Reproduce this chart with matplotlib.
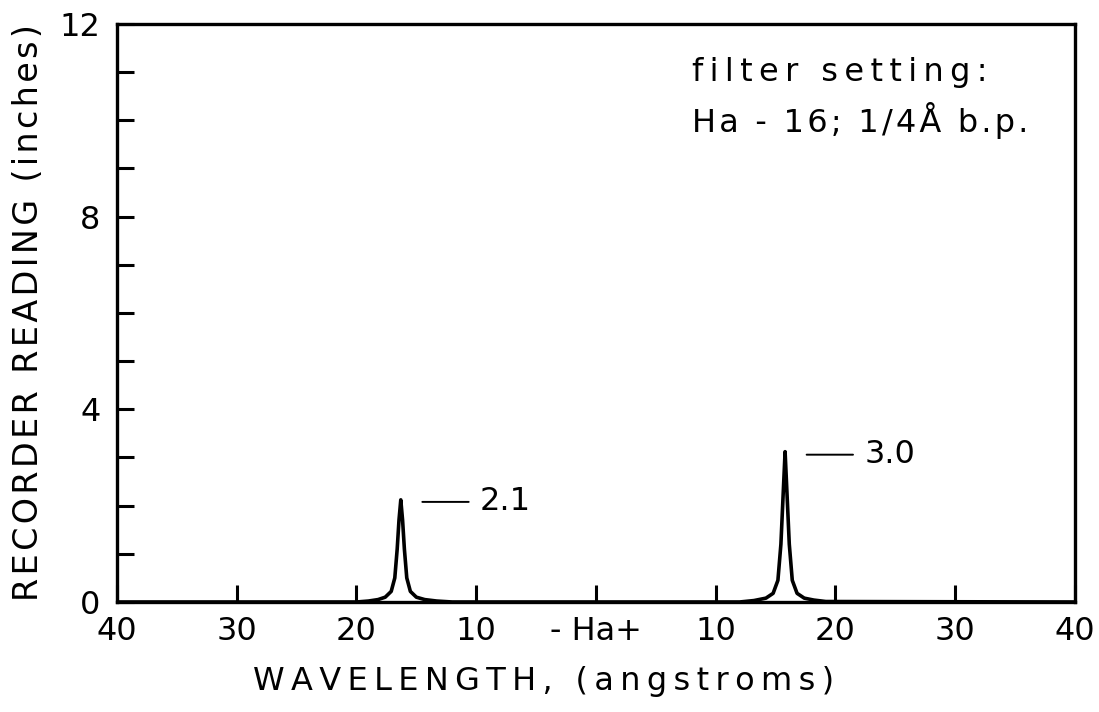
import matplotlib.pyplot as plt
from matplotlib.ticker import MultipleLocator

plt.rcParams['font.family'] = ['DejaVu Sans']

# recorder trace (offset from H-alpha in angstroms, reading in inches)
wavelength = [-40, -20, -19.0, -18.2, -17.6, -17.1, -16.8, -16.6, -16.45, -16.3, -16.15, -16.0, -15.8, -15.5,
              -15.0, -14.3, -13.3, -12.0,
              0, 12.0, 13.2, 14.2, 14.8, 15.2, 15.45, 15.65, 15.8, 15.95, 16.15, 16.4, 16.8,
              17.4, 18.2, 19.2, 40]
reading = [0, 0, 0.02, 0.05, 0.1, 0.22, 0.5, 1.1, 1.7, 2.12, 1.7, 1.1, 0.5, 0.22,
           0.1, 0.05, 0.02, 0.0,
           0, 0.0, 0.03, 0.08, 0.18, 0.45, 1.2, 2.3, 3.12, 2.3, 1.2, 0.45, 0.18,
           0.08, 0.04, 0.01, 0]

xtick_pos = [-40, -30, -20, -10, 0, 10, 20, 30, 40]
xtick_labels = ['40', '30', '20', '10', '- Ha+', '10', '20', '30', '40']
ytick_pos = [0, 4, 8, 12]

peak_labels = ['2.1', '3.0']
peak_x = [-16.3, 15.8]
peak_y = [2.12, 3.12]


# the lettering on the original is stencilled with wide letter spacing
def spaced(s, sp='\u2009'):
    return sp.join(s)


fig = plt.figure(figsize=(10.99, 7.12), dpi=100)
ax = fig.add_axes([0.1065, 0.1545, 0.8715, 0.812])

ax.plot(wavelength, reading, color='black', lw=2.6)

ax.set_xlim(-40, 40)
ax.set_ylim(0, 12)

for side in ['left', 'right', 'top', 'bottom']:
    ax.spines[side].set_linewidth(2.4)

ax.set_xticks(xtick_pos)
ax.set_xticklabels(xtick_labels)
ax.xaxis.set_minor_locator(plt.FixedLocator([0]))
ax.set_yticks(ytick_pos)
ax.yaxis.set_minor_locator(MultipleLocator(1))
ax.tick_params(axis='both', which='both', direction='in', width=2.2, labelsize=23)
ax.tick_params(axis='x', which='major', length=12, pad=10)
ax.tick_params(axis='x', which='minor', length=30)
ax.tick_params(axis='y', which='both', length=12, pad=12)

# little leader lines and values next to the peaks
for lab, px, py in zip(peak_labels, peak_x, peak_y):
    ax.annotate(lab, xy=(px + 1.8, py * 0.98), xytext=(px + 6.6, py * 0.98),
                fontsize=23, va='center', ha='left',
                arrowprops=dict(arrowstyle='-', color='black', lw=1.4, shrinkA=6, shrinkB=0))

ax.text(0.60, 0.915, spaced('filter setting:'), transform=ax.transAxes, fontsize=23, va='center')
ax.text(0.60, 0.833, spaced('Ha - 16; 1/4Å b.p.', '\u200a'), transform=ax.transAxes, fontsize=23, va='center')

ax.set_xlabel(spaced('WAVELENGTH, (angstroms)'), fontsize=23, labelpad=14, x=0.445)
ax.set_ylabel(spaced('RECORDER READING (inches)', '\u200a'), fontsize=24, labelpad=10)

fig.savefig('out.png', dpi=100)
